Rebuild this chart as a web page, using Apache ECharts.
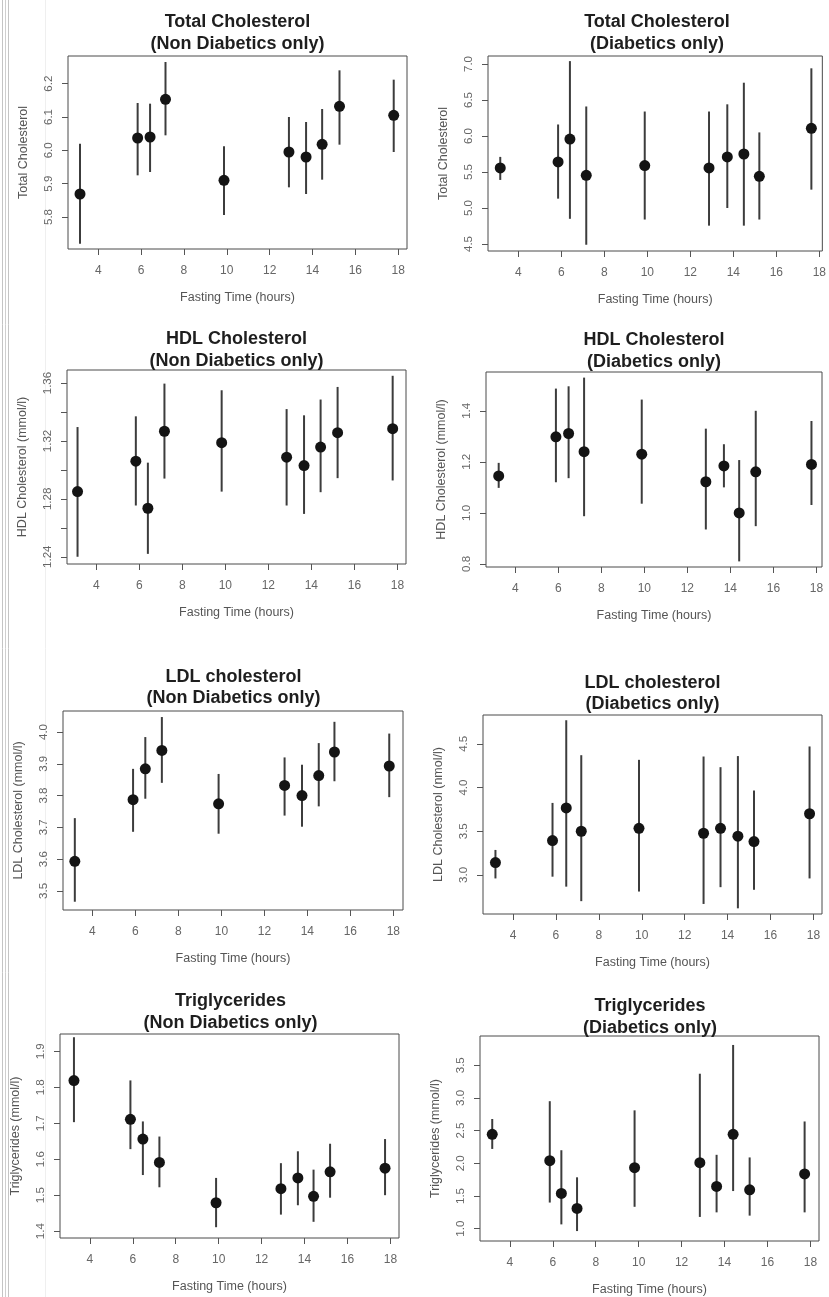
<!DOCTYPE html>
<html><head><meta charset="utf-8">
<script src="https://cdn.jsdelivr.net/npm/echarts@6/dist/echarts.min.js"></script>
<style>html,body{margin:0;padding:0;background:#fff}#c{width:829px;height:1297px}</style>
</head><body><div id="c"></div>
<script>
// ---------- DATA ----------
const xAxisTitle = 'Fasting Time (hours)';
const xTickValues = [4, 6, 8, 10, 12, 14, 16, 18];

// Total cholesterol, non diabetics
const tcNonX    = [3.15, 5.84, 6.42, 7.14, 9.87, 12.90, 13.70, 14.45, 15.26, 17.79];
const tcNonMean = [5.869, 6.037, 6.040, 6.153, 5.910, 5.995, 5.980, 6.018, 6.132, 6.105];
const tcNonLow  = [5.720, 5.925, 5.935, 6.045, 5.806, 5.889, 5.869, 5.912, 6.017, 5.995];
const tcNonHigh = [6.020, 6.142, 6.140, 6.265, 6.012, 6.100, 6.085, 6.124, 6.240, 6.212];
const tcNonYTicks = [5.8, 5.9, 6.0, 6.1, 6.2];
const tcNonYLabels = [5.8, 5.9, 6.0, 6.1, 6.2];

// Total cholesterol, diabetics
const tcDiaX    = [3.16, 5.85, 6.40, 7.16, 9.88, 12.87, 13.72, 14.49, 15.21, 17.63];
const tcDiaMean = [5.556, 5.640, 5.958, 5.454, 5.590, 5.556, 5.710, 5.750, 5.440, 6.106];
const tcDiaLow  = [5.390, 5.130, 4.850, 4.490, 4.840, 4.755, 5.000, 4.755, 4.840, 5.255];
const tcDiaHigh = [5.710, 6.160, 7.040, 6.410, 6.340, 6.340, 6.440, 6.740, 6.050, 6.940];
const tcDiaYTicks = [4.5, 5.0, 5.5, 6.0, 6.5, 7.0];
const tcDiaYLabels = [4.5, 5.0, 5.5, 6.0, 6.5, 7.0];

// HDL, non diabetics
const hdlNonX    = [3.13, 5.84, 6.40, 7.17, 9.83, 12.85, 13.66, 14.43, 15.22, 17.78];
const hdlNonMean = [1.2850, 1.3060, 1.2735, 1.3267, 1.3188, 1.3088, 1.3030, 1.3158, 1.3257, 1.3285];
const hdlNonLow  = [1.2400, 1.2754, 1.2420, 1.2940, 1.2850, 1.2754, 1.2696, 1.2846, 1.2943, 1.2927];
const hdlNonHigh = [1.3296, 1.3370, 1.3050, 1.3596, 1.3550, 1.3420, 1.3377, 1.3486, 1.3573, 1.3650];
const hdlNonYTicks = [1.24, 1.26, 1.28, 1.30, 1.32, 1.34, 1.36];
const hdlNonYLabels = [1.24, 1.28, 1.32, 1.36];

// HDL, diabetics
const hdlDiaX    = [3.23, 5.89, 6.48, 7.20, 9.88, 12.86, 13.70, 14.41, 15.18, 17.77];
const hdlDiaMean = [1.145, 1.298, 1.311, 1.240, 1.230, 1.122, 1.184, 1.000, 1.161, 1.190];
const hdlDiaLow  = [1.098, 1.120, 1.136, 0.987, 1.036, 0.935, 1.100, 0.810, 0.948, 1.031];
const hdlDiaHigh = [1.196, 1.487, 1.496, 1.530, 1.444, 1.330, 1.269, 1.207, 1.400, 1.360];
const hdlDiaYTicks = [0.8, 1.0, 1.2, 1.4];
const hdlDiaYLabels = [0.8, 1.0, 1.2, 1.4];

// LDL, non diabetics
const ldlNonX    = [3.18, 5.89, 6.46, 7.23, 9.87, 12.94, 13.75, 14.53, 15.26, 17.81];
const ldlNonMean = [3.593, 3.787, 3.884, 3.942, 3.774, 3.832, 3.800, 3.863, 3.937, 3.893];
const ldlNonLow  = [3.466, 3.686, 3.790, 3.840, 3.680, 3.737, 3.702, 3.766, 3.845, 3.795];
const ldlNonHigh = [3.729, 3.884, 3.984, 4.047, 3.868, 3.920, 3.897, 3.965, 4.032, 3.995];
const ldlNonYTicks = [3.5, 3.6, 3.7, 3.8, 3.9, 4.0];
const ldlNonYLabels = [3.5, 3.6, 3.7, 3.8, 3.9, 4.0];

// LDL, diabetics
const ldlDiaX    = [3.18, 5.84, 6.48, 7.18, 9.87, 12.88, 13.67, 14.48, 15.23, 17.82];
const ldlDiaMean = [3.141, 3.393, 3.767, 3.500, 3.534, 3.477, 3.534, 3.443, 3.382, 3.700];
const ldlDiaLow  = [2.960, 2.980, 2.866, 2.700, 2.810, 2.668, 2.860, 2.618, 2.830, 2.960];
const ldlDiaHigh = [3.286, 3.824, 4.770, 4.370, 4.317, 4.355, 4.233, 4.360, 3.966, 4.470];
const ldlDiaYTicks = [3.0, 3.5, 4.0, 4.5];
const ldlDiaYLabels = [3.0, 3.5, 4.0, 4.5];

// Triglycerides, non diabetics
const tgNonX    = [3.26, 5.89, 6.47, 7.24, 9.88, 12.90, 13.69, 14.42, 15.19, 17.75];
const tgNonMean = [1.8185, 1.711, 1.656, 1.591, 1.479, 1.518, 1.548, 1.497, 1.565, 1.575];
const tgNonLow  = [1.703, 1.628, 1.556, 1.522, 1.411, 1.446, 1.472, 1.426, 1.493, 1.500];
const tgNonHigh = [1.939, 1.819, 1.705, 1.663, 1.548, 1.589, 1.622, 1.571, 1.643, 1.656];
const tgNonYTicks = [1.4, 1.5, 1.6, 1.7, 1.8, 1.9];
const tgNonYLabels = [1.4, 1.5, 1.6, 1.7, 1.8, 1.9];

// Triglycerides, diabetics
const tgDiaX    = [3.18, 5.86, 6.40, 7.13, 9.81, 12.85, 13.63, 14.40, 15.17, 17.73];
const tgDiaMean = [2.444, 2.040, 1.540, 1.310, 1.934, 2.010, 1.646, 2.444, 1.595, 1.837];
const tgDiaLow  = [2.220, 1.400, 1.066, 0.964, 1.335, 1.180, 1.250, 1.576, 1.200, 1.250];
const tgDiaHigh = [2.678, 2.950, 2.200, 1.786, 2.810, 3.370, 2.130, 3.810, 2.090, 2.640];
const tgDiaYTicks = [1.0, 1.5, 2.0, 2.5, 3.0, 3.5];
const tgDiaYLabels = [1.0, 1.5, 2.0, 2.5, 3.0, 3.5];

const panelTitles = [
  'Total Cholesterol\n(Non Diabetics only)', 'Total Cholesterol\n(Diabetics only)',
  'HDL Cholesterol\n(Non Diabetics only)', 'HDL Cholesterol\n(Diabetics only)',
  'LDL cholesterol\n(Non Diabetics only)', 'LDL cholesterol\n(Diabetics only)',
  'Triglycerides\n(Non Diabetics only)', 'Triglycerides\n(Diabetics only)'
];
const yAxisTitles = [
  'Total Cholesterol', 'Total Cholesterol',
  'HDL Cholesterol (mmol/l)', 'HDL Cholesterol (mmol/l)',
  'LDL Cholesterol (mmol/l)', 'LDL Cholesterol (nmol/l)',
  'Triglycerides (mmol/l)', 'Triglycerides (mmol/l)'
];

const panels = [
  {x: tcNonX,  mean: tcNonMean,  low: tcNonLow,  high: tcNonHigh,  ticks: tcNonYTicks,  labels: tcNonYLabels,  digits: 1},
  {x: tcDiaX,  mean: tcDiaMean,  low: tcDiaLow,  high: tcDiaHigh,  ticks: tcDiaYTicks,  labels: tcDiaYLabels,  digits: 1},
  {x: hdlNonX, mean: hdlNonMean, low: hdlNonLow, high: hdlNonHigh, ticks: hdlNonYTicks, labels: hdlNonYLabels, digits: 2},
  {x: hdlDiaX, mean: hdlDiaMean, low: hdlDiaLow, high: hdlDiaHigh, ticks: hdlDiaYTicks, labels: hdlDiaYLabels, digits: 1},
  {x: ldlNonX, mean: ldlNonMean, low: ldlNonLow, high: ldlNonHigh, ticks: ldlNonYTicks, labels: ldlNonYLabels, digits: 1},
  {x: ldlDiaX, mean: ldlDiaMean, low: ldlDiaLow, high: ldlDiaHigh, ticks: ldlDiaYTicks, labels: ldlDiaYLabels, digits: 1},
  {x: tgNonX,  mean: tgNonMean,  low: tgNonLow,  high: tgNonHigh,  ticks: tgNonYTicks,  labels: tgNonYLabels,  digits: 1},
  {x: tgDiaX,  mean: tgDiaMean,  low: tgDiaLow,  high: tgDiaHigh,  ticks: tgDiaYTicks,  labels: tgDiaYLabels,  digits: 1}
];

// ---------- LAYOUT (positions & scale extents) ----------
const layout = [
  {left: 68,  top: 56,   width: 339, height: 193, xMin: 2.59, xMax: 18.41, yMin: 5.704, yMax: 6.283, tx: 237.5, ty: 11.5},
  {left: 488, top: 56,   width: 337, height: 195, xMin: 2.59, xMax: 18.14, yMin: 4.403, yMax: 7.111, tx: 657,   ty: 11.5},
  {left: 67,  top: 370,  width: 339, height: 194, xMin: 2.64, xMax: 18.40, yMin: 1.235, yMax: 1.369, tx: 236.5, ty: 328.5},
  {left: 486, top: 372,  width: 336, height: 195, xMin: 2.64, xMax: 18.26, yMin: 0.788, yMax: 1.552, tx: 654,   ty: 329.5},
  {left: 63,  top: 711,  width: 340, height: 199, xMin: 2.63, xMax: 18.45, yMin: 3.440, yMax: 4.066, tx: 233.5, ty: 666},
  {left: 483, top: 715,  width: 339, height: 199, xMin: 2.60, xMax: 18.40, yMin: 2.553, yMax: 4.830, tx: 652.5, ty: 672},
  {left: 60,  top: 1034, width: 339, height: 204, xMin: 2.61, xMax: 18.40, yMin: 1.381, yMax: 1.948, tx: 230.5, ty: 990.5},
  {left: 480, top: 1036, width: 339, height: 206, xMin: 2.61, xMax: 18.40, yMin: 0.812, yMax: 3.947, tx: 650,   ty: 995.5}
];

const FONT = '"Liberation Sans", Arial, Helvetica, sans-serif';

const chart = echarts.init(document.getElementById('c'), null, {renderer: 'canvas'});

const grids = [], xAxes = [], yAxes = [], titles = [], series = [];
panels.forEach((p, i) => {
  const L = layout[i];
  grids.push({left: L.left, top: L.top, width: L.width, height: L.height, show: true,
    borderColor: '#4a4a4a', borderWidth: 1, backgroundColor: 'transparent', containLabel: false});
  titles.push({text: panelTitles[i], left: L.tx, top: L.ty, textAlign: 'center', padding: 0,
    textStyle: {fontFamily: FONT, fontSize: 18, fontWeight: 'bold', color: '#1e1e1e', lineHeight: 21.5}});
  xAxes.push({gridIndex: i, type: 'value', min: L.xMin, max: L.xMax,
    name: xAxisTitle, nameLocation: 'middle', nameGap: 42,
    nameTextStyle: {fontFamily: FONT, fontSize: 12.5, color: '#555'},
    axisLine: {show: false},
    axisTick: {show: true, length: 6, lineStyle: {color: '#555', width: 1}, customValues: xTickValues},
    axisLabel: {show: true, margin: 16, fontFamily: FONT, fontSize: 12, color: '#666', customValues: xTickValues,
      formatter: v => String(Math.round(v))},
    splitLine: {show: false}});
  yAxes.push({gridIndex: i, type: 'value', min: L.yMin, max: L.yMax,
    name: yAxisTitles[i], nameLocation: 'middle', nameGap: 38, nameRotate: 90,
    nameTextStyle: {fontFamily: FONT, fontSize: 12.5, color: '#555'},
    axisLine: {show: false},
    axisTick: {show: true, length: 6, lineStyle: {color: '#555', width: 1}, customValues: p.ticks},
    axisLabel: {show: true, rotate: 90, margin: 13, fontFamily: FONT, fontSize: 11.5, color: '#666',
      customValues: p.labels, formatter: v => v.toFixed(p.digits)},
    splitLine: {show: false}});
  series.push({type: 'custom', xAxisIndex: i, yAxisIndex: i, silent: true, z: 2,
    data: p.x.map((xv, j) => [xv, p.low[j], p.high[j]]),
    encode: {x: 0, y: [1, 2]},
    renderItem: (params, api) => {
      const a = api.coord([api.value(0), api.value(1)]);
      const b = api.coord([api.value(0), api.value(2)]);
      return {type: 'line', shape: {x1: a[0], y1: a[1], x2: b[0], y2: b[1]},
        style: {stroke: '#3c3c3c', lineWidth: 2}};
    }});
  series.push({type: 'scatter', xAxisIndex: i, yAxisIndex: i, silent: true, z: 3,
    data: p.x.map((xv, j) => [xv, p.mean[j]]),
    symbol: 'circle', symbolSize: 11,
    itemStyle: {color: '#141414', opacity: 1}});
});

chart.setOption({
  animation: false,
  backgroundColor: '#ffffff',
  title: titles,
  grid: grids,
  xAxis: xAxes,
  yAxis: yAxes,
  series: series,
  graphic: [
    {type: 'line', silent: true, shape: {x1: 2.5, y1: 0, x2: 2.5, y2: 1297}, style: {stroke: '#c4c4c4', lineWidth: 1}},
    {type: 'line', silent: true, shape: {x1: 5.5, y1: 0, x2: 5.5, y2: 1297}, style: {stroke: '#cfcfcf', lineWidth: 1}},
    {type: 'line', silent: true, shape: {x1: 8.5, y1: 0, x2: 8.5, y2: 1297}, style: {stroke: '#c4c4c4', lineWidth: 1}},
    {type: 'line', silent: true, shape: {x1: 45.5, y1: 0, x2: 45.5, y2: 1297}, style: {stroke: '#efefef', lineWidth: 1}}
  ]
});
</script>
</body></html>
